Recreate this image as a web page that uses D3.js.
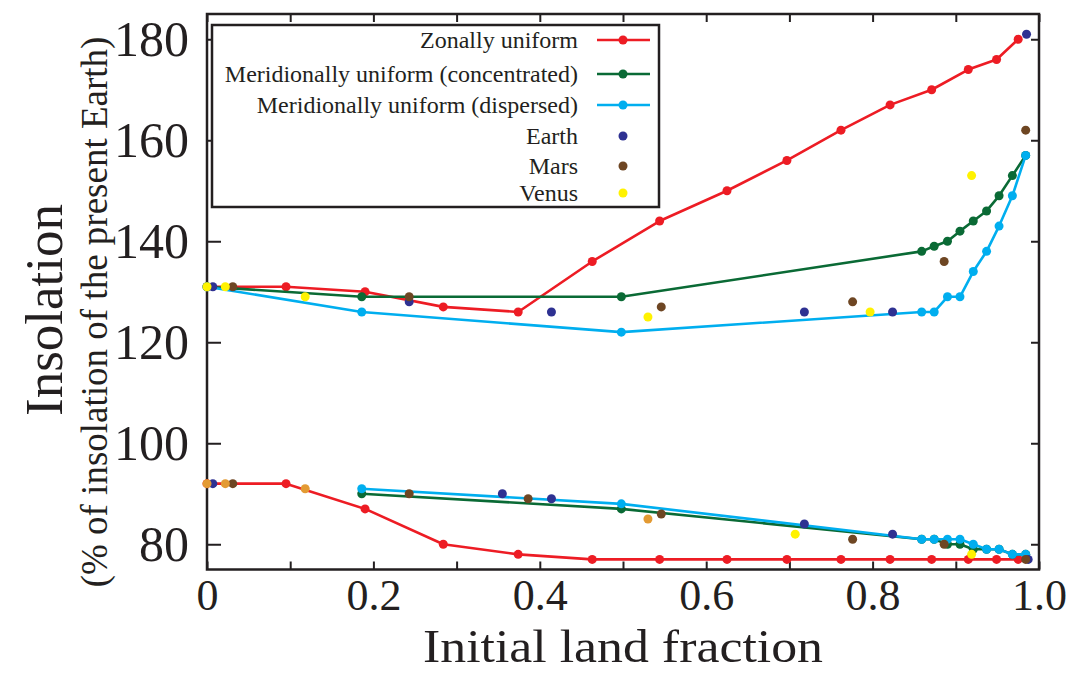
<!DOCTYPE html>
<html>
<head>
<meta charset="utf-8">
<script src="https://cdn.jsdelivr.net/npm/d3@7"></script>
<style>
  html, body { margin: 0; padding: 0; background: #fff; }
  svg { display: block; }
  text { font-family: "Liberation Serif", "Times New Roman", serif; fill: #231f20; }
</style>
</head>
<body>
<svg id="chart" width="1074" height="673"></svg>
<script>
// ---------------- data ----------------
const zonalX = [0, 0.095, 0.19, 0.284, 0.374, 0.463, 0.544, 0.625, 0.697, 0.762, 0.821, 0.871, 0.915, 0.949, 0.975];
const zonalUpper = [131, 131, 130, 127, 126, 136, 144, 150, 156, 162, 167, 170, 174, 176, 180];
const zonalLower = [92, 92, 87, 80, 78, 77, 77, 77, 77, 77, 77, 77, 77, 77, 77];

const meridUpperX = [0, 0.186, 0.498, 0.859, 0.874, 0.890, 0.905, 0.921, 0.937, 0.952, 0.968, 0.984];
const concUpper = [131, 129, 129, 138, 139, 140, 142, 144, 146, 149, 153, 157];
const dispUpper = [131, 126, 122, 126, 126, 129, 129, 134, 138, 143, 149, 157];

const meridLowerX = [0.186, 0.498, 0.859, 0.874, 0.890, 0.905, 0.921, 0.937, 0.952, 0.968, 0.984];
const concLower = [90, 87, 81, 81, 80, 80, 79, 79, 79, 78, 78];
const dispLower = [91, 88, 81, 81, 81, 81, 80, 79, 79, 78, 78];

const earthX = [0.007, 0.243, 0.414, 0.718, 0.824, 0.985, 0.007, 0.355, 0.414, 0.718, 0.824, 0.987];
const earthY = [131, 128, 126, 126, 126, 181, 92, 90, 89, 84, 82, 77];
const marsX = [0.031, 0.243, 0.546, 0.776, 0.886, 0.984, 0.031, 0.243, 0.386, 0.546, 0.776, 0.886, 0.984];
const marsY = [131, 129, 127, 128, 136, 162, 92, 90, 89, 86, 81, 80, 77];
const venusX = [0, 0.022, 0.118, 0.530, 0.797, 0.919, 0.707, 0.919];
const venusY = [131, 131, 129, 125, 126, 153, 82, 78];
const venusAltX = [0, 0.022, 0.118, 0.530];
const venusAltY = [92, 92, 91, 85];

const xTicks = [0, 0.1, 0.2, 0.3, 0.4, 0.5, 0.6, 0.7, 0.8, 0.9, 1.0];
const xTickLabels = ["0", "", "0.2", "", "0.4", "", "0.6", "", "0.8", "", "1.0"];
const yTicks = [80, 100, 120, 140, 160, 180];
const yTickLabels = ["80", "100", "120", "140", "160", "180"];

const legendLabels = ["Zonally uniform", "Meridionally uniform (concentrated)", "Meridionally uniform (dispersed)", "Earth", "Mars", "Venus"];

// ---------------- styles ----------------
const C = { red: "#ed1c24", green: "#0a6a35", cyan: "#00aeef", earth: "#2e3192", mars: "#6e4623", venus: "#fff200", venusAlt: "#e39a33" };

const svg = d3.select("#chart");
const x = d3.scaleLinear().domain([0, 1]).range([207, 1039]);
const y = d3.scaleLinear().domain([75, 185]).range([569.5, 14]);

const pLeft = x(0), pRight = x(1), pTop = y(185), pBottom = y(75);

// axes
const gx = svg.append("g").attr("transform", `translate(0,${pBottom})`)
  .call(d3.axisBottom(x).tickValues(xTicks).tickSize(-8).tickPadding(9)
    .tickFormat((d, i) => xTickLabels[i]));
const gxTop = svg.append("g").attr("transform", `translate(0,${pTop})`)
  .call(d3.axisTop(x).tickValues(xTicks).tickSize(-8).tickFormat(""));
const gy = svg.append("g").attr("transform", `translate(${pLeft},0)`)
  .call(d3.axisLeft(y).tickValues(yTicks).tickSize(-14).tickPadding(18)
    .tickFormat((d, i) => yTickLabels[i]));
const gyR = svg.append("g").attr("transform", `translate(${pRight},0)`)
  .call(d3.axisRight(y).tickValues(yTicks).tickSize(-8).tickFormat(""));

[gx, gxTop, gy, gyR].forEach(g => {
  g.select(".domain").remove();
  g.selectAll(".tick line").attr("stroke", "#231f20").attr("stroke-width", 2);
});
gx.selectAll(".tick text").attr("font-size", 44).attr("fill", "#231f20")
  .attr("font-family", '"Liberation Serif", "Times New Roman", serif');
gy.selectAll(".tick text").attr("font-size", 50).attr("fill", "#231f20")
  .attr("font-family", '"Liberation Serif", "Times New Roman", serif');

// frame
svg.append("rect").attr("x", pLeft).attr("y", pTop).attr("width", pRight - pLeft).attr("height", pBottom - pTop)
  .attr("fill", "none").attr("stroke", "#231f20").attr("stroke-width", 2.5);

// axis titles
svg.append("text").attr("x", (pLeft + pRight) / 2).attr("y", 662).attr("text-anchor", "middle")
  .attr("font-size", 47).attr("textLength", 400).attr("lengthAdjust", "spacingAndGlyphs")
  .text("Initial land fraction");
svg.append("text").attr("transform", "translate(62,310) rotate(-90)").attr("text-anchor", "middle")
  .attr("font-size", 53).text("Insolation");
svg.append("text").attr("transform", "translate(107,312) rotate(-90)").attr("text-anchor", "middle")
  .attr("font-size", 37).text("(% of insolation of the present Earth)");

const plot = svg.append("g");
const line = d3.line().x(d => x(d[0])).y(d => y(d[1]));
const R = 4.5;

function series(xs, ys, color) {
  const pts = xs.map((v, i) => [v, ys[i]]);
  plot.append("path").datum(pts).attr("d", line).attr("fill", "none")
    .attr("stroke", color).attr("stroke-width", 2.6).attr("stroke-linejoin", "round");
  plot.append("g").selectAll("circle").data(pts).join("circle")
    .attr("cx", d => x(d[0])).attr("cy", d => y(d[1])).attr("r", R).attr("fill", color);
}
function dots(xs, ys, color) {
  plot.append("g").selectAll("circle").data(xs.map((v, i) => [v, ys[i]])).join("circle")
    .attr("cx", d => x(d[0])).attr("cy", d => y(d[1])).attr("r", R).attr("fill", color);
}

series(zonalX, zonalUpper, C.red);
series(zonalX, zonalLower, C.red);
series(meridUpperX, concUpper, C.green);
series(meridLowerX, concLower, C.green);
series(meridUpperX, dispUpper, C.cyan);
series(meridLowerX, dispLower, C.cyan);
dots(earthX, earthY, C.earth);
dots(marsX, marsY, C.mars);
dots(venusX, venusY, C.venus);
dots(venusAltX, venusAltY, C.venusAlt);

// legend
const lg = svg.append("g");
lg.append("rect").attr("x", 212).attr("y", 25).attr("width", 447).attr("height", 182)
  .attr("fill", "#fff").attr("stroke", "#231f20").attr("stroke-width", 2.5);
const legendColors = [C.red, C.green, C.cyan, C.earth, C.mars, C.venus];
const legendY = [40, 74, 105, 136, 166, 193];
legendLabels.forEach((lab, i) => {
  const yy = legendY[i];
  lg.append("text").attr("x", 578).attr("y", yy).attr("dy", "0.33em").attr("text-anchor", "end")
    .attr("font-size", 24).text(lab);
  if (i < 3) {
    lg.append("line").attr("x1", 597).attr("x2", 650).attr("y1", yy).attr("y2", yy)
      .attr("stroke", legendColors[i]).attr("stroke-width", 2.6);
  }
  lg.append("circle").attr("cx", 623).attr("cy", yy).attr("r", R).attr("fill", legendColors[i]);
});
</script>
</body>
</html>
